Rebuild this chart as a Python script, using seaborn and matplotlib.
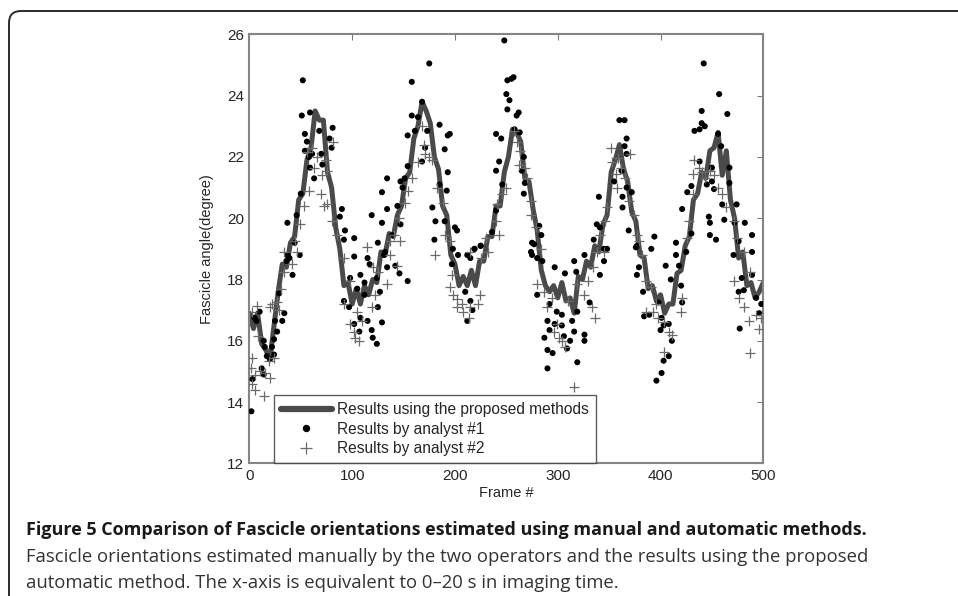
import numpy as np
import pandas as pd
import matplotlib
matplotlib.use('Agg')
import matplotlib.pyplot as plt
import seaborn as sns
from matplotlib import font_manager
from matplotlib.patches import FancyBboxPatch
from matplotlib.transforms import IdentityTransform
from matplotlib.lines import Line2D

# automatic method, one value every 4 frames (0..500)
line_frames = np.arange(0, 501, 4)
line_angles = [
    16.9, 16.4, 16.9, 15.9, 15.7, 15.4, 16.5, 17.6, 18.5, 18.4,
    19.2, 19.4, 20.6, 20.8, 21.9, 22.3, 23.5, 23.2, 23.2, 21.5,
    21.0, 19.7, 19.0, 17.8, 17.9, 17.2, 17.7, 17.2, 17.8, 17.5,
    18.0, 17.9, 18.9, 18.8, 19.5, 19.4, 20.1, 20.4, 21.3, 21.5,
    22.6, 23.0, 23.8, 23.5, 23.1, 22.0, 21.6, 20.4, 20.1, 18.8,
    18.5, 17.8, 18.1, 17.8, 18.3, 17.8, 18.6, 18.6, 19.4, 19.4,
    20.4, 20.4, 21.5, 22.0, 22.9, 22.8, 22.5, 21.3, 21.2, 20.3,
    19.6, 18.3, 17.8, 17.6, 17.8, 17.4, 17.9, 17.3, 17.4, 16.9,
    18.1, 18.0, 18.6, 18.4, 19.1, 18.9, 19.8, 20.1, 21.5, 21.9,
    22.4, 21.6, 21.2, 20.2, 19.9, 18.8, 18.7, 17.7, 17.8, 17.3,
    17.5, 16.9, 17.2, 17.2, 18.2, 18.3, 19.1, 19.4, 20.6, 20.8,
    21.5, 21.3, 22.2, 22.3, 22.8, 21.4, 22.2, 20.6, 20.0, 18.7,
    18.9, 17.8, 17.9, 17.4, 17.6, 17.9,
]

# analyst #1 (dots)
dot_frames = [
    2, 3, 5, 7, 10, 12, 14, 14, 15, 17, 20, 22, 24, 24, 25, 27, 29, 32, 34, 36,
    37, 37, 39, 42, 44, 46, 49, 50, 51, 52, 54, 54, 56, 58, 59, 59, 61, 63, 68, 70,
    71, 78, 80, 81, 88, 90, 92, 92, 93, 97, 98, 102, 102, 102, 105, 107, 108, 108, 112, 112,
    115, 115, 117, 119, 119, 120, 124, 124, 125, 125, 127, 129,
    175, 158, 168, 158, 164, 185, 193, 195, 190, 154, 161, 173, 171, 168, 154, 151, 134, 147, 149, 193,
    185, 192, 129, 134, 144, 129, 178, 181, 190, 200, 202, 180, 198, 219, 225, 132, 139, 147,
    154, 134, 146, 142, 131, 203, 212, 215, 219, 225, 197, 210, 215, 212, 217,
    248, 251, 255, 257, 250, 253, 251, 260, 262, 258, 263, 240, 245, 243, 240, 267, 265, 246, 268, 267,
    240, 236, 282, 284, 275, 274, 280, 360, 365, 367, 365, 367, 362, 355, 367, 363, 340, 363, 338, 341,
    335, 345, 348,
    277, 275, 285, 297, 307, 316, 318, 326, 341, 331, 280, 292, 299, 304, 319, 290, 292, 297, 304, 314,
    316, 306, 312, 326, 326, 287, 290, 295, 290, 319, 309, 345,
    442, 457, 440, 465, 440, 443, 433, 438, 456, 459, 438, 450, 467, 450, 445, 430, 452, 426, 467, 372,
    369, 421, 447, 448, 460, 462, 474, 472, 482, 489, 448, 454, 430, 394, 415, 415, 391, 376, 476, 489,
    377, 405, 418, 410, 379, 377, 383, 384, 398, 389, 401, 400, 403, 408, 411, 408, 403, 401, 396, 421,
    420, 425, 477, 471, 479, 481, 493, 496, 498, 489, 476,
]
dot_angles = [
    13.7, 14.75, 16.75, 16.65, 16.95, 15.1, 16.0, 14.9, 15.8, 15.5, 15.4, 15.8, 16.05, 15.55, 16.65, 16.3, 17.55, 16.65, 16.9, 18.6,
    18.8, 19.85, 18.7, 18.15, 19.2, 20.1, 18.8, 20.8, 23.35, 24.5, 22.75, 22.2, 22.5, 22.0, 23.45, 21.65, 22.1, 21.3, 22.85, 22.1,
    21.75, 22.6, 22.3, 22.95, 20.05, 20.3, 19.3, 17.3, 19.6, 17.1, 18.05, 19.35, 18.75, 16.55, 17.7, 16.3, 18.15, 16.75, 17.5, 17.9,
    18.7, 16.65, 18.5, 20.1, 16.35, 16.1, 15.9, 18.05, 19.2, 17.1, 17.6, 16.6,
    25.05, 24.45, 23.8, 23.35, 23.3, 23.05, 22.7, 22.75, 22.25, 22.7, 22.85, 22.85, 22.3, 21.85, 21.7, 21.3, 21.3, 21.2, 21.0, 21.5,
    21.1, 20.9, 20.85, 20.3, 20.4, 19.85, 20.35, 19.9, 19.9, 19.7, 19.6, 19.3, 19.0, 19.0, 19.1, 18.9, 19.45, 19.8,
    17.95, 18.4, 18.2, 18.45, 18.8, 18.8, 18.8, 18.7, 19.0, 19.1, 18.5, 17.6, 17.3, 16.65, 17.0,
    25.8, 24.5, 24.55, 24.6, 24.05, 23.85, 23.55, 23.35, 23.45, 22.9, 22.8, 22.75, 22.6, 21.85, 21.55, 22.0, 21.55, 21.1, 21.15, 20.8,
    20.25, 19.55, 19.75, 19.45, 19.2, 18.9, 18.7, 23.2, 23.2, 22.6, 22.35, 22.1, 21.55, 21.2, 21.0, 20.7, 20.7, 20.35, 19.8, 19.7,
    19.3, 19.0, 19.0,
    19.15, 18.8, 18.6, 18.4, 18.2, 18.6, 18.25, 18.8, 18.15, 17.25, 17.5, 17.2, 16.95, 16.85, 16.95, 16.65, 16.35, 16.55, 16.5, 16.65,
    16.3, 16.15, 16.0, 16.2, 16.0, 16.1, 15.7, 15.6, 15.1, 15.3, 15.75, 18.6,
    25.05, 24.05, 23.5, 23.4, 23.1, 23.0, 22.85, 22.9, 22.75, 22.35, 21.85, 21.65, 21.65, 21.2, 21.1, 21.05, 20.95, 20.85, 21.15, 20.85,
    19.6, 20.3, 20.05, 19.85, 20.45, 19.95, 20.45, 19.85, 19.85, 19.45, 19.45, 19.3, 19.5, 19.4, 19.2, 18.8, 19.0, 19.05, 19.25, 18.9,
    19.1, 18.45, 18.45, 18.0, 18.4, 18.15, 17.6, 16.8, 17.25, 16.85, 16.75, 16.35, 16.5, 16.55, 16.0, 15.5, 15.35, 14.95, 14.7, 17.25,
    17.8, 18.9, 16.4, 18.8, 18.05, 17.65, 17.4, 16.9, 17.2, 18.15, 17.6,
]

# analyst #2 (plus signs)
plus_frames = [
    3, 2, 5, 3, 5, 14, 10, 15, 20, 19, 24, 8, 3, 7, 22, 20, 29, 27, 31, 34,
    41, 46, 92, 98, 102, 103, 107, 110, 105, 119, 122, 98, 92, 125,
    56, 61, 66, 75, 81, 71, 76, 70, 58, 53, 49, 44, 34, 76, 73, 80, 85, 63,
    168, 170, 171, 175, 178, 164, 154, 151, 146, 158, 141, 137, 147, 183, 188, 190, 195, 181, 230, 215,
    114, 120, 134, 144, 137, 195, 198, 202, 202, 207, 208, 215, 214, 222, 224, 197, 225, 232,
    257, 260, 263, 262, 268, 270, 250, 246, 241, 240, 243, 274, 274, 279, 284, 352, 353, 357, 358, 348,
    346, 341, 338,
    280, 287, 294, 299, 301, 304, 307, 296, 316, 326, 333, 336, 329, 334, 345, 290, 310, 319,
    359, 362, 365, 369, 374, 377, 379, 370, 433, 437, 432, 440, 443, 448, 452, 456, 432, 428, 426, 460,
    464, 471, 474, 481, 382,
    386, 391, 386, 393, 398, 403, 408, 411, 403, 420, 421, 396, 471, 476, 481, 486, 493, 487, 496, 498,
    487,
]
plus_angles = [
    15.45, 15.1, 14.9, 14.6, 14.4, 14.2, 15.0, 14.95, 14.8, 15.35, 15.45, 16.15, 16.95, 17.15, 17.2, 17.1, 17.0, 17.25, 17.7, 18.25,
    18.5, 18.9, 17.2, 16.55, 16.3, 16.1, 16.0, 16.65, 16.95, 17.1, 17.5, 17.95, 18.7, 18.25,
    22.15, 22.3, 22.0, 21.9, 22.5, 21.4, 21.55, 20.8, 20.9, 20.4, 19.8, 19.25, 18.9, 20.45, 20.4, 19.9, 19.45, 21.65,
    23.0, 22.4, 22.1, 22.0, 21.9, 21.85, 20.9, 20.5, 20.0, 21.3, 19.45, 19.25, 19.25, 21.0, 20.5, 19.45, 19.25, 18.8, 19.35, 18.9,
    19.05, 18.4, 17.85, 18.45, 18.8, 17.75, 17.5, 17.35, 17.1, 17.2, 16.95, 17.1, 16.75, 17.2, 17.5, 18.15, 18.7, 18.9,
    22.85, 22.5, 22.2, 21.75, 21.65, 21.3, 21.0, 20.8, 20.45, 19.9, 19.45, 20.55, 20.1, 19.7, 19.0, 22.3, 21.85, 21.45, 21.0, 20.35,
    19.9, 19.45, 18.9,
    17.85, 17.6, 17.4, 16.55, 16.1, 16.0, 15.8, 16.3, 14.5, 17.5, 17.1, 16.75, 17.95, 18.4, 18.9, 17.1, 17.3, 17.85,
    21.95, 21.65, 21.3, 20.55, 20.1, 19.45, 19.25, 22.1, 21.9, 21.65, 21.45, 21.5, 21.3, 21.55, 21.4, 21.0, 20.8, 19.9, 19.35, 20.8,
    20.35, 19.9, 19.35, 18.9, 18.8,
    17.95, 17.75, 16.95, 16.95, 16.75, 16.6, 16.3, 16.2, 15.65, 16.95, 17.4, 17.2, 17.95, 17.4, 17.1, 16.65, 16.85, 15.6, 16.4, 16.75,
    18.25,
]

x_ticks = [0, 100, 200, 300, 400, 500]
y_ticks = [12, 14, 16, 18, 20, 22, 24, 26]

legend_labels = ['Results using the proposed methods',
                 'Results by analyst #1',
                 'Results by analyst #2']

caption_title = 'Figure 5 Comparison of Fascicle orientations estimated using manual and automatic methods.'
caption_lines = ['Fascicle orientations estimated manually by the two operators and the results using the proposed',
                 'automatic method. The x-axis is equivalent to 0\u201320 s in imaging time.']

sns.set_style('white')
plt.rcParams['font.family'] = ['Liberation Sans', 'DejaVu Sans']

installed = {f.name for f in font_manager.fontManager.ttflist}
cap_font = next((f for f in ['Open Sans', 'Noto Sans'] if f in installed), 'DejaVu Sans')

fig = plt.figure(figsize=(9.58, 5.96), dpi=100)
ax = fig.add_axes([0.2603, 0.2225, 0.5365, 0.7199])

line_color = '#4a4a4a'
plus_color = '#6a6a6a'

line_df = pd.DataFrame({'frame': line_frames, 'angle': line_angles})
sns.lineplot(data=line_df, x='frame', y='angle', ax=ax, color=line_color, lw=3.6, legend=False)
sns.scatterplot(x=dot_frames, y=dot_angles, ax=ax, color='black', s=19, marker='o',
                edgecolor='none', legend=False, zorder=3)
sns.scatterplot(x=plus_frames, y=plus_angles, ax=ax, color=plus_color, s=55, marker='+',
                linewidth=0.9, legend=False, zorder=4)

ax.set_xlim(0, 500)
ax.set_ylim(12, 26)
ax.set_xticks(x_ticks)
ax.set_yticks(y_ticks)
ax.tick_params(direction='in', length=4, width=0.8, color='#777777', labelsize=11,
               top=True, right=True, pad=4)
for sp in ax.spines.values():
    sp.set_color('#858585')
    sp.set_linewidth(1.5)
ax.set_xlabel('Frame #', fontsize=10.5)
ax.xaxis.set_label_coords(0.5, -0.052)
ax.set_ylabel('Fascicle angle(degree)', fontsize=10.5)
ax.yaxis.set_label_coords(-0.068, 0.5)

handles = [Line2D([], [], color=line_color, lw=4.5),
           Line2D([], [], color='black', marker='o', ls='none', ms=4.3),
           Line2D([], [], color=plus_color, marker='+', ls='none', ms=8, mew=0.9)]
leg = ax.legend(handles, legend_labels, loc='lower left', bbox_to_anchor=(0.047, 0.0),
                fontsize=11.2, frameon=True, fancybox=False, edgecolor='#333333',
                handlelength=3.3, handletextpad=0.35, borderpad=0.45, labelspacing=0.3,
                borderaxespad=0.0)
leg.get_frame().set_linewidth(1.0)

# outer rounded frame of the figure panel
box = FancyBboxPatch((9, -60), 1100, 645, boxstyle='round,pad=0,rounding_size=12',
                     transform=IdentityTransform(), facecolor='none',
                     edgecolor='#2b2b2b', lw=1.4)
fig.add_artist(box)

# caption, sized to the reference widths
fig.canvas.draw()
renderer = fig.canvas.get_renderer()


def fit_text(txt, y, width_px, weight, color, size=12):
    t = fig.text(26 / 958, y, txt, fontsize=size, fontweight=weight, color=color,
                 family=[cap_font, 'DejaVu Sans'], va='center', ha='left')
    w = t.get_window_extent(renderer).width
    t.set_fontsize(size * width_px / w)
    return t.get_fontsize()


fit_text(caption_title, 1 - 530 / 596, 844, 'bold', '#1a1a1a')
fs = fit_text(caption_lines[0], 1 - 557 / 596, 836, 'normal', '#333333')
fig.text(26 / 958, 1 - 583 / 596, caption_lines[1], fontsize=fs, color='#333333',
         family=[cap_font, 'DejaVu Sans'], va='center', ha='left')

fig.savefig('out.png', dpi=100)
